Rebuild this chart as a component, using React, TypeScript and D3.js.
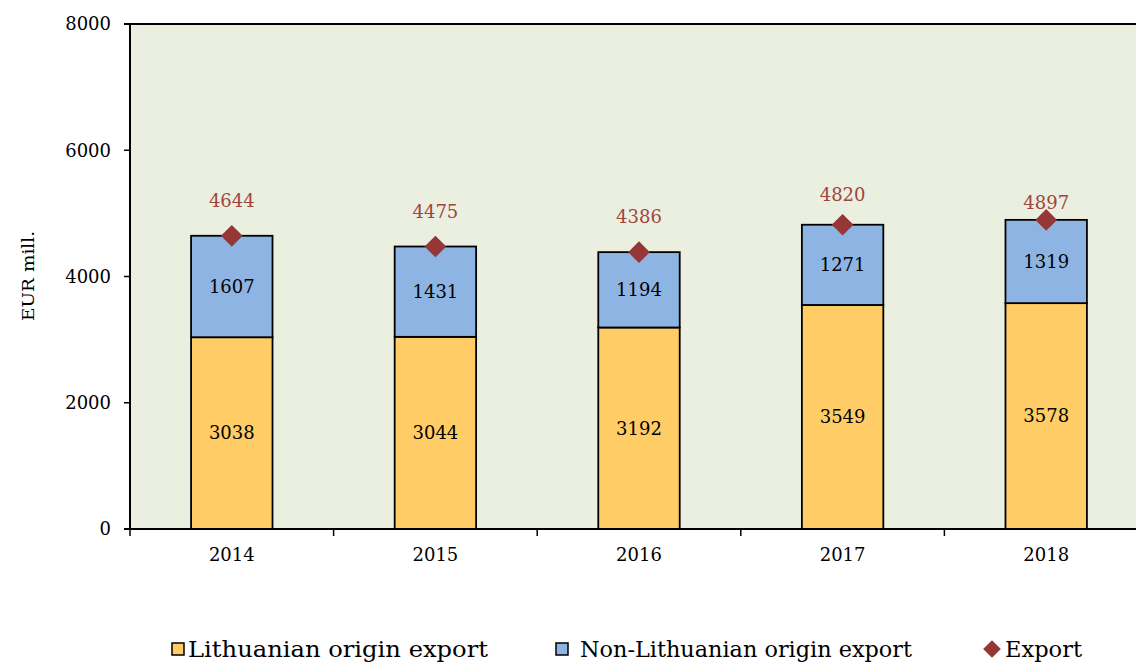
import React from "react";
import * as d3 from "d3";

const years = ["2014", "2015", "2016", "2017", "2018"];
const lithuanian = [3038, 3044, 3192, 3549, 3578];
const nonLithuanian = [1607, 1431, 1194, 1271, 1319];
const exportTotal = [4644, 4475, 4386, 4820, 4897];
const yTicks = [0, 2000, 4000, 6000, 8000];
const legendLabels = ["Lithuanian origin export", "Non-Lithuanian origin export", "Export"];
// pixel offsets of the export value labels above their markers (style)
const exportLabelLift = [35, 35, 35, 30, 17];

const W = 1136;
const H = 663;
const left = 130;
const top = 24;
const bottom = 529;
const right = 1148;

const numFont = "'DejaVu Serif', serif";

export default function App() {
  const x = d3.scaleBand<string>().domain(years).range([left, right]).paddingInner(0.6).paddingOuter(0.3);
  const y = d3.scaleLinear().domain([0, 8000]).range([bottom, top]);
  const step = x.step();
  const bw = x.bandwidth();
  const boundaries = d3.range(years.length + 1).map((i) => left + i * step);
  const diamond = d3.symbol().type(d3.symbolDiamond2).size(300)();

  return (
    <svg width={W} height={H} style={{ position: "absolute", left: 0, top: 0, background: "#fff" }}>
      <rect x={left} y={top} width={W - left} height={bottom - top} fill="#EBEFDF" />
      {/* bars */}
      {years.map((yr, i) => {
        const x0 = x(yr)!;
        const cx = x0 + bw / 2;
        const yL = y(lithuanian[i]);
        const yN = y(lithuanian[i] + nonLithuanian[i]);
        return (
          <g key={yr}>
            <rect x={x0} y={yL} width={bw} height={bottom - yL} fill="#FFCC66" stroke="#000" strokeWidth={1.8} />
            <rect x={x0} y={yN} width={bw} height={yL - yN} fill="#8EB4E3" stroke="#000" strokeWidth={1.8} />
            <text x={cx} y={(yL + bottom) / 2} dy="0.35em" textAnchor="middle" fontFamily={numFont} fontSize={18} fill="#000">
              {lithuanian[i]}
            </text>
            <text x={cx} y={(yL + yN) / 2} dy="0.35em" textAnchor="middle" fontFamily={numFont} fontSize={18} fill="#000">
              {nonLithuanian[i]}
            </text>
          </g>
        );
      })}
      {/* export markers */}
      {years.map((yr, i) => {
        const cx = x(yr)! + bw / 2;
        const cy = y(exportTotal[i]);
        return (
          <g key={"e" + yr}>
            <text x={cx} y={cy - exportLabelLift[i]} dy="0.35em" textAnchor="middle" fontFamily={numFont} fontSize={18} fill="#A0443F">
              {exportTotal[i]}
            </text>
            <path d={diamond!} transform={`translate(${cx},${cy})`} fill="#953735" />
          </g>
        );
      })}
      {/* axes */}
      <line x1={left} x2={left} y1={top} y2={bottom} stroke="#000" strokeWidth={2} />
      <line x1={left - 6} x2={W} y1={top} y2={top} stroke="#000" strokeWidth={2} />
      <line x1={left - 6} x2={W} y1={bottom} y2={bottom} stroke="#000" strokeWidth={2} />
      {yTicks.map((t) => (
        <g key={t}>
          <line x1={left - 6} x2={left} y1={y(t)} y2={y(t)} stroke="#000" strokeWidth={1.5} />
          <text x={left - 19} y={y(t)} dy="0.35em" textAnchor="end" fontFamily={numFont} fontSize={18} fill="#000">
            {t}
          </text>
        </g>
      ))}
      {boundaries.map((b, i) => (
        <line key={i} x1={b} x2={b} y1={bottom} y2={bottom + 7} stroke="#000" strokeWidth={1.5} />
      ))}
      {years.map((yr) => (
        <text key={"xl" + yr} x={x(yr)! + bw / 2} y={555} dy="0.35em" textAnchor="middle" fontFamily={numFont} fontSize={18} fill="#000">
          {yr}
        </text>
      ))}
      <text transform={`translate(34,276) rotate(-90)`} textAnchor="middle" fontFamily={numFont} fontSize={17} textLength={90} lengthAdjust="spacingAndGlyphs" fill="#000">
        EUR mill.
      </text>
      {/* legend */}
      <rect x={172} y={643} width={12} height={12} fill="#FFCC66" stroke="#000" strokeWidth={1.5} />
      <text x={188} y={657} fontFamily={numFont} fontSize={23} textLength={300} lengthAdjust="spacingAndGlyphs" fill="#000">
        {legendLabels[0]}
      </text>
      <rect x={556} y={643} width={12} height={12} fill="#8EB4E3" stroke="#000" strokeWidth={1.5} />
      <text x={580} y={657} fontFamily={numFont} fontSize={23} textLength={332} lengthAdjust="spacingAndGlyphs" fill="#000">
        {legendLabels[1]}
      </text>
      <path d={d3.symbol().type(d3.symbolDiamond2).size(200)()!} transform="translate(992,649)" fill="#953735" />
      <text x={1005} y={657} fontFamily={numFont} fontSize={23} textLength={77} lengthAdjust="spacingAndGlyphs" fill="#000">
        {legendLabels[2]}
      </text>
    </svg>
  );
}
